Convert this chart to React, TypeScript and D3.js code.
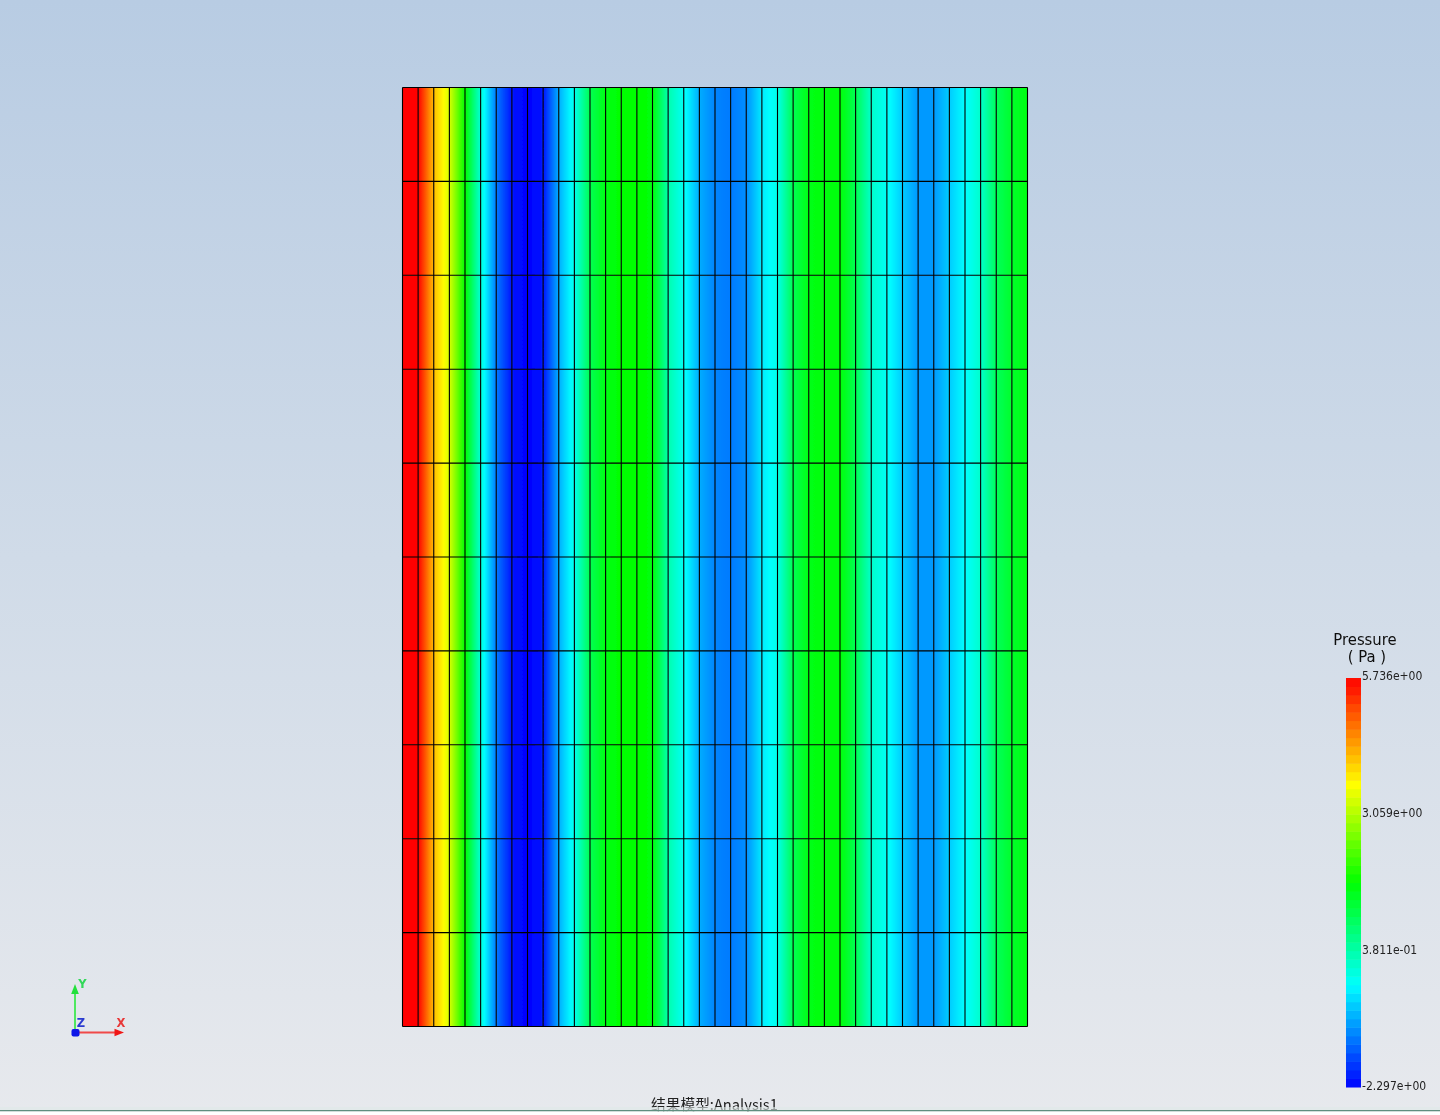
import React from "react";
import * as d3 from "d3";

const WIDTH = 1440;
const HEIGHT = 1115;

const pressureMin = -2.297;
const pressureMax = 5.736;
const rowCount = 10;
// Pressure (Pa) at each mesh node along x
const nodePressures = [
  5.736, 5.736, 4.2, 3.35, 1.72, 0.033, -1.333, -2.136, -2.297, -2.136, -0.931,
  -0.128, 1.077, 1.559, 1.72, 1.72, 1.639, 0.354, -0.208, -0.931, -1.253,
  -1.333, -1.172, -0.449, -0.128, 1.077, 1.559, 1.639, 1.639, 1.077, 0.113,
  -0.208, -0.69, -1.092, -1.092, -0.69, -0.289, 0.113, 0.997, 1.398, 1.559,
];
const legendTicks = ["5.736e+00", "3.059e+00", "3.811e-01", "-2.297e+00"];
const legendTickValues = [5.736, 3.059, 0.3811, -2.297];
const rainbowStops = [0, 0.25, 0.5, 0.74, 1];
const rainbowColors = ["#0000ff", "#00ffff", "#00ff00", "#ffff00", "#ff0000"];
const backgroundStops = [
  { offset: 0, color: "#b8cce3" },
  { offset: 0.5, color: "#d0dbe8" },
  { offset: 1, color: "#e7e9ed" },
];
const legendBands = 48;
const caption = "结果模型:Analysis1";

const fraction = d3.scaleLinear().domain([pressureMin, pressureMax]).range([0, 1]);
const colorOfFraction = d3
  .scaleLinear<string>()
  .domain(rainbowStops)
  .range(rainbowColors)
  .clamp(true);
const pressureColor = (p: number) => colorOfFraction(fraction(p));

const xScale = d3.scaleLinear().domain([0, nodePressures.length - 1]).range([402.5, 1027.5]);
const yScale = d3.scaleLinear().domain([0, rowCount]).range([87.5, 1026.5]);
const legendY = d3.scaleLinear().domain([pressureMin, pressureMax]).range([1087, 678]);

const columns = d3.range(nodePressures.length - 1);
const rows = d3.range(rowCount);
const bands = d3.range(legendBands);
const gradientSamples = d3.range(0, 1.0001, 1 / 8);
const tickOffsets = [1.5, 3, 3, 3];

export default function App() {
  const bandHeight = (legendY(pressureMin) - legendY(pressureMax)) / legendBands;
  return (
    <svg
      width={WIDTH}
      height={HEIGHT}
      viewBox={`0 0 ${WIDTH} ${HEIGHT}`}
      style={{ position: "absolute", left: 0, top: 0, display: "block" }}
    >
      <defs>
        <linearGradient id="bg" x1="0" y1="0" x2="0" y2="1">
          {backgroundStops.map((s) => (
            <stop key={s.offset} offset={s.offset} stopColor={s.color} />
          ))}
        </linearGradient>
        {columns.map((c) => (
          <linearGradient key={c} id={`col-${c}`} x1="0" y1="0" x2="1" y2="0">
            {gradientSamples.map((t) => (
              <stop
                key={t}
                offset={t}
                stopColor={pressureColor(nodePressures[c] + (nodePressures[c + 1] - nodePressures[c]) * t)}
              />
            ))}
          </linearGradient>
        ))}
        <filter id="soft" x="0" y="0" width={WIDTH} height={HEIGHT} filterUnits="userSpaceOnUse">
          <feGaussianBlur stdDeviation="0.4" />
        </filter>
      </defs>
      <rect width={WIDTH} height={HEIGHT} fill="url(#bg)" />

      <g filter="url(#soft)">
        {rows.map((r) =>
          columns.map((c) => (
            <rect
              key={`${r}-${c}`}
              x={xScale(c)}
              y={yScale(r)}
              width={xScale(c + 1) - xScale(c)}
              height={yScale(r + 1) - yScale(r)}
              fill={`url(#col-${c})`}
            />
          ))
        )}
        <g stroke="#000" strokeWidth={1.1} fill="none">
          {d3.range(nodePressures.length).map((c) => (
            <line key={c} x1={xScale(c)} x2={xScale(c)} y1={yScale(0)} y2={yScale(rowCount)} />
          ))}
          {d3.range(rowCount + 1).map((r) => (
            <line key={r} x1={xScale(0)} x2={xScale(nodePressures.length - 1)} y1={yScale(r)} y2={yScale(r)} />
          ))}
        </g>

        {/* Legend */}
        <g
          fontFamily="'DejaVu Sans', sans-serif"
          fontStretch="condensed"
          fill="#111"
          fontSize={16.5}
          textAnchor="middle"
        >
          <text x={1365} y={645}>Pressure</text>
          <text x={1367} y={662} style={{ whiteSpace: "pre" }}>( Pa )</text>
        </g>
        {bands.map((b) => {
          const low = pressureMin + ((pressureMax - pressureMin) * b) / legendBands;
          const mid = low + (pressureMax - pressureMin) / legendBands / 2;
          return (
            <rect
              key={b}
              x={1346}
              y={legendY(low) - bandHeight}
              width={15}
              height={bandHeight + 0.5}
              fill={pressureColor(mid)}
            />
          );
        })}
        <g fontFamily="'DejaVu Sans', sans-serif" fontStretch="condensed" fontSize={12} fill="#222">
          {legendTicks.map((t, i) => (
            <text key={t} x={1362} y={legendY(legendTickValues[i]) + tickOffsets[i]}>
              {t}
            </text>
          ))}
        </g>

        {/* Axis triad */}
        <g>
          <line x1={75} x2={75} y1={1032} y2={992} stroke="#50e860" strokeWidth={2} />
          <path d="M75 984 L78.8 994 L71.2 994 Z" fill="#22e03a" />
          <line x1={75} x2={116} y1={1032.5} y2={1032.5} stroke="#f04848" strokeWidth={2} />
          <path d="M124 1032.5 L114.5 1028.8 L114.5 1036.2 Z" fill="#f01818" />
          <rect x={71.5} y={1029} width={8} height={7.5} rx={2} fill="#0a18e8" />
          <g fontFamily="'DejaVu Sans', sans-serif" fontSize={11.5} fontWeight={700} textAnchor="middle">
            <text x={82.5} y={988} fill="#30d858">Y</text>
            <text x={121} y={1027} fill="#e83838">X</text>
            <text x={81} y={1026.5} fill="#2a3ad0">Z</text>
          </g>
        </g>

        <text
          x={714.5}
          y={1110}
          textAnchor="middle"
          fontFamily="'Noto Sans CJK SC', 'Open Sans', sans-serif"
          fontSize={14.7}
          fill="#222"
        >
          {caption}
        </text>
      </g>
      <rect x={0} y={1107} width={WIDTH} height={3} fill="#dfe9e8" fillOpacity={0.6} />
      <rect x={0} y={1110} width={WIDTH} height={1.5} fill="#5f8f80" />
      <rect x={0} y={1111.5} width={WIDTH} height={3.5} fill="#ffffff" />
    </svg>
  );
}
